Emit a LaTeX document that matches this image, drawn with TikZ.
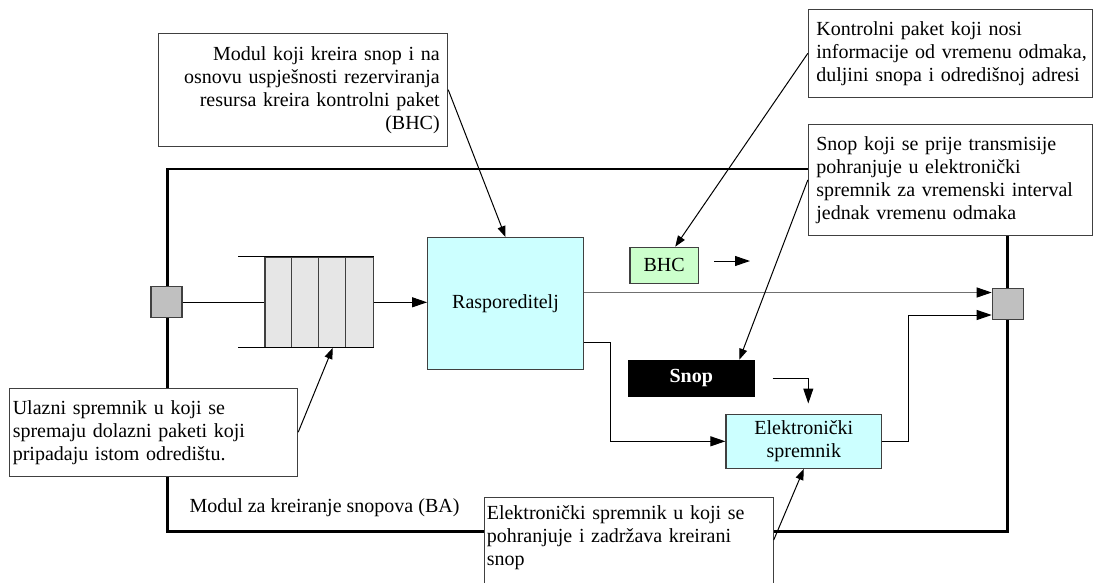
\documentclass[tikz,border=0pt]{standalone}
\usepackage{fontspec}
\setmainfont{Liberation Serif}
\usetikzlibrary{arrows.meta}
\definecolor{cyanfill}{HTML}{CCFFFF}
\definecolor{greenfill}{HTML}{CCFFCC}
\definecolor{cellfill}{HTML}{E6E6E6}
\definecolor{portfill}{HTML}{C0C0C0}
\definecolor{edge}{HTML}{404040}
\definecolor{greyline}{HTML}{707070}
\begin{document}
\begin{tikzpicture}[x=1pt,y=-1pt,
  every node/.style={font=\fontsize{20}{23}\selectfont},
  callout/.style={draw=edge, fill=white, line width=1pt, inner ysep=0pt},
  box/.style={draw=edge, line width=1.2pt, inner sep=0pt},
  port/.style={box, fill=portfill, minimum width=31pt, minimum height=31pt},
  arrow/.style={line width=1pt, -{Triangle[length=15pt,width=10pt,color=black]}},
  pointer/.style={line width=1pt, -{Triangle[length=11pt,width=8pt]}}]
\useasboundingbox (0,0) rectangle (1093,582);
\clip (0,0) rectangle (1093,582);
\fill[white] (0,0) rectangle (1093,582);

% module frame
\node[draw, line width=2.5pt, inner sep=0pt, minimum width=840pt, minimum height=362.5pt] (frame) at (587.3,350.25) {};
\node[anchor=base west, inner sep=0pt] (balabel) at (189.3,512.5) {Modul za kreiranje snopova (BA)};

% ports
\node[port] (inport) at (166.5,302) {};
\node[port] (outport) at (1007.8,303.7) {};

% input queue
\node[box, fill=cellfill, minimum width=108.3pt, minimum height=90pt] (queue) at (319.2,302.3) {};
\foreach \k in {1,2,3}
  \draw[edge, line width=1.2pt] ([xshift=\k*27.1pt]queue.north west) -- ([xshift=\k*27.1pt]queue.south west);
\draw[line width=1pt] (queue.north east) -- ++(-136,0);
\draw[line width=1pt] (queue.south east) -- ++(-136,0);

% functional blocks
\node[box, fill=cyanfill, minimum width=155.6pt, minimum height=131.6pt] (rasp) at (505.5,303.5) {Rasporeditelj};
\node[box, fill=greenfill, minimum width=68.3pt, minimum height=36pt] (bhc) at (664.2,265.3) {BHC};
\node[fill=black, inner sep=0pt, minimum width=127.3pt, minimum height=36.7pt, text=white, font=\fontsize{20}{23}\selectfont\bfseries] (snop) at (691.3,378.3) {Snop};
\node[box, fill=cyanfill, minimum width=155.7pt, minimum height=54pt, align=center] (elek) at (803.8,441.3) {Elektronički\\spremnik};

% explanatory callouts (each line kept whole)
\node[callout, minimum width=289.4pt, minimum height=112.7pt, inner xsep=8pt, text width=273.4pt, align=right] (cap1) at (303,89.7)
  {\mbox{Modul koji kreira snop i na}\\\mbox{osnovu uspješnosti rezerviranja}\\\mbox{resursa kreira kontrolni paket}\\(BHC)};
\node[callout, minimum width=283.7pt, minimum height=88pt, inner xsep=8pt, text width=267.7pt, align=left] (cap2) at (950.2,53.3)
  {\mbox{Kontrolni paket koji nosi}\\\mbox{informacije od vremenu odmaka,}\\\mbox{duljini snopa i odredišnoj adresi}};
\node[callout, minimum width=283.7pt, minimum height=111.2pt, inner xsep=8pt, text width=267.7pt, align=left] (cap3) at (950.2,179.9)
  {\mbox{Snop koji se prije transmisije}\\\mbox{pohranjuje u elektronički}\\\mbox{spremnik za vremenski interval}\\\mbox{jednak vremenu odmaka}};
\node[callout, minimum width=288.4pt, minimum height=87.7pt, inner xsep=3.5pt, text width=281.4pt, align=left] (cap4) at (153.5,432.2)
  {\mbox{Ulazni spremnik u koji se}\\\mbox{spremaju dolazni paketi koji}\\\mbox{pripadaju istom odredištu.}};
\node[callout, anchor=north west, inner xsep=2pt, inner ysep=8pt, text width=284.4pt, align=left] (cap5) at (484.3,496.7)
  {\mbox{Elektronički spremnik u koji se}\\\mbox{pohranjuje i zadržava kreirani}\\snop\rule[-30pt]{0pt}{0pt}};

% data paths
\draw[line width=1pt] (inport.east) -- (inport.east -| queue.west);
\draw[arrow] (queue.east) -- (queue.east -| rasp.west);
\draw[arrow, greyline] ([yshift=11pt]rasp.east) -- ([yshift=11pt]rasp.east -| outport.west);
\draw[arrow] ([yshift=-38.8pt]rasp.east) -- ++(26.7,0) |- (elek.west);
\draw[arrow] (elek.east) -- ++(26.6,0) |- ([yshift=-11.3pt]outport.west);

% motion hints
\coordinate (bhcfrom) at (714,261);
\coordinate (bhcto) at (750,261);
\draw[arrow] (bhcfrom) -- (bhcto);
\coordinate (snopfrom) at (772.7,378);
\coordinate (snopto) at (808.3,403.5);
\draw[arrow] (snopfrom) -| (snopto);

% callout pointers
\draw[pointer] (cap1.east) -- (rasp.north);
\draw[pointer] (cap2.west) -- ([xshift=11pt]bhc.north);
\draw[pointer] (cap3.west) -- ([xshift=48pt]snop.north);
\draw[pointer] (cap4.east) -- ([xshift=13.5pt]queue.south);
\draw[pointer] ([yshift=-43.3pt]cap5.north east) -- (elek.south);
\end{tikzpicture}
\end{document}
